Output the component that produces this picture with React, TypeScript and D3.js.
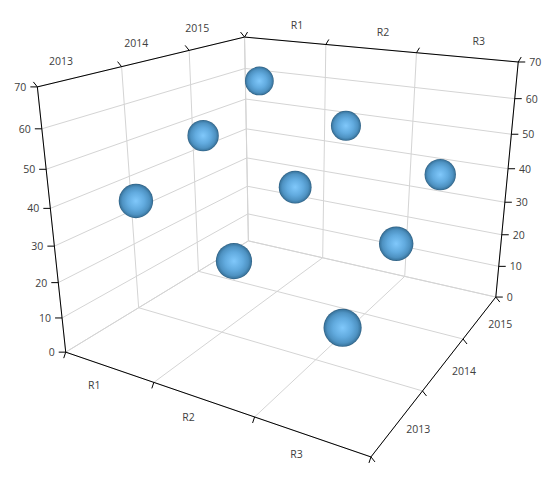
import React from "react";
import * as d3 from "d3";

const regions = ["R1", "R2", "R3"];
const years = ["2013", "2014", "2015"];
const valueTicks = [0, 10, 20, 30, 40, 50, 60, 70];
// one row per year, one value per region
const values2013 = [40, 30, 20];
const values2014 = [50, 40, 30];
const values2015 = [60, 50, 40];
const rows = [values2013, values2014, values2015];

// picture positions of the box corners, used to calibrate the projection
// [u, v, w, px, py]
const calibration = [
  [0, 0, 0, 66, 352],
  [1, 0, 0, 371, 457],
  [1, 1, 0, 496, 297],
  [0, 1, 0, 248, 241],
  [0, 0, 1, 37, 87],
  [0, 1, 1, 245, 37],
  [1, 1, 1, 518, 62],
];

function solve(A: number[][], b: number[]) {
  const n = b.length;
  const m = A.map((r, i) => [...r, b[i]]);
  for (let i = 0; i < n; i++) {
    let p = i;
    for (let k = i + 1; k < n; k++) if (Math.abs(m[k][i]) > Math.abs(m[p][i])) p = k;
    [m[i], m[p]] = [m[p], m[i]];
    for (let k = 0; k < n; k++) {
      if (k === i) continue;
      const f = m[k][i] / m[i][i];
      for (let c = i; c <= n; c++) m[k][c] -= f * m[i][c];
    }
  }
  return m.map((r, i) => r[n] / r[i]);
}

function fitCamera() {
  const rowsA: number[][] = [];
  const rhs: number[] = [];
  calibration.forEach(([u, v, w, x, y]) => {
    rowsA.push([u, v, w, 1, 0, 0, 0, 0, -x * u, -x * v, -x * w]);
    rhs.push(x);
    rowsA.push([0, 0, 0, 0, u, v, w, 1, -y * u, -y * v, -y * w]);
    rhs.push(y);
  });
  const ata = d3.range(11).map((i) => d3.range(11).map((j) => d3.sum(rowsA, (r) => r[i] * r[j])));
  const atb = d3.range(11).map((i) => d3.sum(rowsA, (r, k) => r[i] * rhs[k]));
  return solve(ata, atb);
}

const p = fitCamera();
const depth = (u: number, v: number, w: number) => p[8] * u + p[9] * v + p[10] * w + 1;
const project = (u: number, v: number, w: number): [number, number] => {
  const h = depth(u, v, w);
  return [(p[0] * u + p[1] * v + p[2] * w + p[3]) / h, (p[4] * u + p[5] * v + p[6] * w + p[7]) / h];
};

const uScale = d3.scaleBand<string>().domain(regions).range([0, 1]);
const vScale = d3.scaleBand<string>().domain(years).range([0, 1]);
const wScale = d3.scaleLinear().domain([0, 70]).range([0, 1]);
const uEdges = [0, 1, 2, 3].map((i) => i * uScale.step());
const vEdges = [0, 1, 2, 3].map((i) => i * vScale.step());

const line = d3.line<[number, number, number]>()
  .x((d) => project(d[0], d[1], d[2])[0])
  .y((d) => project(d[0], d[1], d[2])[1]);

const GRID = "#d4d4d4";
const AXIS = "#000";
const TEXT = "#404040";
const FONT = "'Open Sans', sans-serif";
const SPHERE_SIZE = 16.5;

type P3 = [number, number, number];
const seg = (a: P3, b: P3, color: string, key: string, width = 1) => (
  <path key={key} d={line([a, b]) as string} stroke={color} strokeWidth={width} fill="none" />
);
// short tick from a box point, in picture pixels
const tick = (a: P3, dx: number, dy: number, key: string) => {
  const [x, y] = project(a[0], a[1], a[2]);
  return <line key={key} x1={x} y1={y} x2={x + dx} y2={y + dy} stroke={AXIS} />;
};

export default function App() {
  const gridLines: React.ReactNode[] = [];
  valueTicks.forEach((t) => {
    const w = wScale(t);
    gridLines.push(seg([0, 0, w], [0, 1, w], GRID, `lw${t}`));
    gridLines.push(seg([0, 1, w], [1, 1, w], GRID, `bw${t}`));
  });
  uEdges.forEach((u, i) => {
    gridLines.push(seg([u, 1, 0], [u, 1, 1], GRID, `bu${i}`));
    gridLines.push(seg([u, 0, 0], [u, 1, 0], GRID, `fu${i}`));
  });
  vEdges.forEach((v, i) => {
    gridLines.push(seg([0, v, 0], [0, v, 1], GRID, `lv${i}`));
    gridLines.push(seg([0, v, 0], [1, v, 0], GRID, `fv${i}`));
  });

  const spheres = years
    .flatMap((year, yi) => regions.map((region, ri) => ({ year, region, value: rows[yi][ri] })))
    .map((d) => {
      const u = (uScale(d.region) as number) + uScale.bandwidth() / 2;
      const v = (vScale(d.year) as number) + vScale.bandwidth() / 2;
      const w = wScale(d.value);
      const [cx, cy] = project(u, v, w);
      return { ...d, u, v, w, cx, cy, r: SPHERE_SIZE / depth(u, v, w) };
    })
    .sort((a, b) => b.v - a.v);

  return (
    <svg width={554} height={486} style={{ position: "absolute", left: 0, top: 0, display: "block" }} fontFamily={FONT} fontSize={10.5}>
      <defs>
        <radialGradient id="ball">
          <stop offset="0" stopColor="#80c8fb" />
          <stop offset="0.5" stopColor="#62abdf" />
          <stop offset="0.8" stopColor="#4e92c2" />
          <stop offset="0.93" stopColor="#3d7aa4" />
          <stop offset="1" stopColor="#2c5c7e" />
        </radialGradient>
      </defs>
      {gridLines}
      {seg([0, 0, 0], [1, 0, 0], AXIS, "a1")}
      {seg([1, 0, 0], [1, 1, 0], AXIS, "a2")}
      {seg([0, 0, 0], [0, 0, 1], AXIS, "a3")}
      {seg([1, 1, 0], [1, 1, 1], AXIS, "a4")}
      {seg([0, 0, 1], [0, 1, 1], AXIS, "a5")}
      {seg([0, 1, 1], [1, 1, 1], AXIS, "a6")}
      {uEdges.map((u, i) => tick([u, 0, 0], -2, 6, `tf${i}`))}
      {uEdges.map((u, i) => tick([u, 1, 1], 3, -5, `tb${i}`))}
      {vEdges.map((v, i) => tick([1, v, 0], 4, 5, `tr${i}`))}
      {vEdges.map((v, i) => tick([0, v, 1], -4, -5, `tl${i}`))}
      {valueTicks.map((t) => {
        const [lx, ly] = project(0, 0, wScale(t));
        const [rx, ry] = project(1, 1, wScale(t));
        return (
          <g key={t}>
            <line x1={lx} y1={ly} x2={lx - 7} y2={ly} stroke={AXIS} />
            <line x1={rx} y1={ry} x2={rx + 7} y2={ry} stroke={AXIS} />
            <text x={lx - 11} y={ly + 4} textAnchor="end" fill={TEXT}>{t}</text>
            <text x={rx + 11} y={ry + 4} fill={TEXT}>{t}</text>
          </g>
        );
      })}
      {regions.map((r) => {
        const u = (uScale(r) as number) + uScale.bandwidth() / 2;
        const [fx, fy] = project(u, 0, 0);
        const [bx, by] = project(u, 1, 1);
        return (
          <g key={r} fill={TEXT} textAnchor="middle">
            <text x={fx - 14} y={fy + 22}>{r}</text>
            <text x={bx + 13} y={by - 12}>{r}</text>
          </g>
        );
      })}
      {years.map((y) => {
        const v = (vScale(y) as number) + vScale.bandwidth() / 2;
        const [tx, ty] = project(0, v, 1);
        const [rx, ry] = project(1, v, 0);
        return (
          <g key={y} fill={TEXT} textAnchor="middle">
            <text x={tx - 21} y={ty - 11}>{y}</text>
            <text x={rx + 20} y={ry + 11}>{y}</text>
          </g>
        );
      })}
      {spheres.map((d) => (
        <circle key={d.year + d.region} cx={d.cx} cy={d.cy} r={d.r} fill="url(#ball)" />
      ))}
    </svg>
  );
}
